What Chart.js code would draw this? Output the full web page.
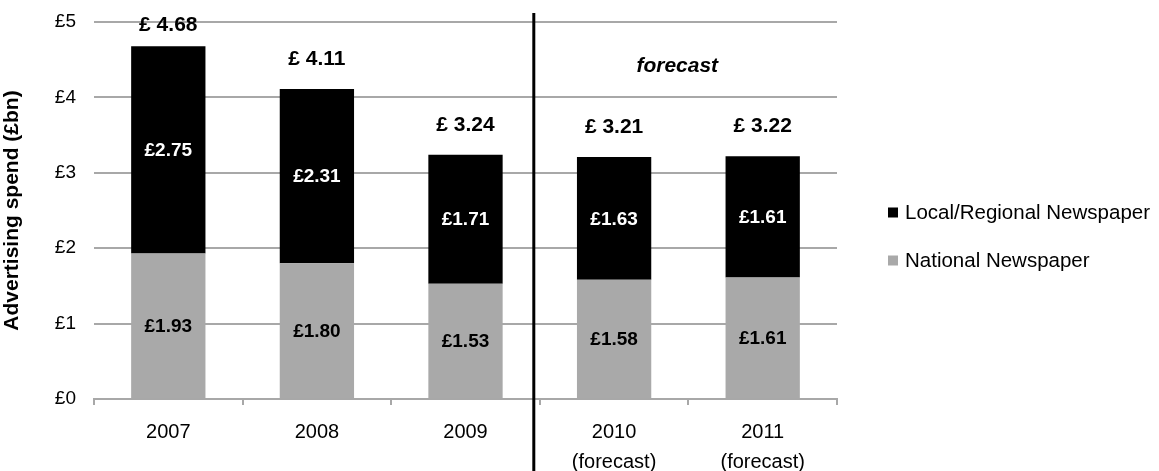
<!DOCTYPE html>
<html><head><meta charset="utf-8">
<script src="https://cdn.jsdelivr.net/npm/chart.js@4"></script>
<style>html,body{margin:0;padding:0;background:#fff}#wrap{width:1159px;height:471px;position:relative}</style>
</head><body><div id="wrap"><canvas id="c" width="1159" height="471"></canvas></div>
<script>
const categories = ['2007', '2008', '2009', ['2010', '(forecast)'], ['2011', '(forecast)']];
const nationalValues = [1.93, 1.80, 1.53, 1.58, 1.61];
const localValues = [2.75, 2.31, 1.71, 1.63, 1.61];
const totalValues = [4.68, 4.11, 3.24, 3.21, 3.22];
const yTickMin = 0;
const yTickMax = 5;
const yTickStep = 1;
const seriesNames = ['National Newspaper', 'Local/Regional Newspaper'];
const forecastText = 'forecast';
const yAxisTitle = 'Advertising spend (£bn)';

const FONT = "'Liberation Sans', Arial, sans-serif";
const GRAY = '#a9a9a9';
const GRID = '#a8a8a8';

const labelsPlugin = {
  id: 'labelsPlugin',
  afterDatasetsDraw(chart) {
    const ctx = chart.ctx;
    const xs = chart.scales.x, ys = chart.scales.y;
    const ca = chart.chartArea;
    const metaN = chart.getDatasetMeta(0), metaL = chart.getDatasetMeta(1);
    ctx.save();
    // divider line between actual and forecast
    const xDiv = (xs.getPixelForValue(2) + xs.getPixelForValue(3)) / 2 - 6;
    ctx.strokeStyle = '#000';
    ctx.lineWidth = 3;
    ctx.beginPath();
    ctx.moveTo(xDiv, ca.top - 9);
    ctx.lineTo(xDiv, chart.height);
    ctx.stroke();

    ctx.textAlign = 'center';
    ctx.textBaseline = 'middle';
    ctx.font = 'bold 19px ' + FONT;
    metaN.data.forEach((bar, i) => {
      ctx.fillStyle = '#000';
      ctx.fillText('£' + nationalValues[i].toFixed(2), bar.x, (bar.y + bar.base) / 2 + 1);
    });
    metaL.data.forEach((bar, i) => {
      ctx.fillStyle = '#fff';
      ctx.fillText('£' + localValues[i].toFixed(2), bar.x, (bar.y + bar.base) / 2 + 1);
    });
    ctx.fillStyle = '#000';
    ctx.font = 'bold 21px ' + FONT;
    metaL.data.forEach((bar, i) => {
      const y = Math.max(bar.y - 30, ca.top + 3.5);
      ctx.fillText('£ ' + totalValues[i].toFixed(2), bar.x, y);
    });
    ctx.font = 'italic bold 21px ' + FONT;
    ctx.fillText(forecastText, xs.getPixelForValue(3.425), ys.getPixelForValue(4.42));
    ctx.restore();
  },
  afterDraw(chart) {
    const ctx = chart.ctx;
    const ca = chart.chartArea;
    const ds = chart.data.datasets;
    const order = [1, 0];
    ctx.save();
    ctx.font = '20.5px ' + FONT;
    ctx.textBaseline = 'middle';
    ctx.textAlign = 'left';
    order.forEach((di, k) => {
      const cy = chart.height / 2 - 23 + k * 48;
      ctx.fillStyle = ds[di].backgroundColor;
      ctx.fillRect(ca.right + 51, cy - 5, 10, 10);
      ctx.fillStyle = '#000';
      ctx.fillText(ds[di].label, ca.right + 68, cy + 1);
    });
    ctx.restore();
  }
};

new Chart(document.getElementById('c'), {
  type: 'bar',
  data: {
    labels: categories,
    datasets: [
      { label: seriesNames[0], data: nationalValues, backgroundColor: GRAY, borderWidth: 0 },
      { label: seriesNames[1], data: localValues, backgroundColor: '#000', borderWidth: 0 }
    ]
  },
  options: {
    responsive: false,
    animation: false,
    devicePixelRatio: 1,
    categoryPercentage: 1,
    barPercentage: 0.5,
    layout: { padding: { top: 22, right: 322, bottom: 0, left: 0 } },
    plugins: { legend: { display: false }, tooltip: { enabled: false }, title: { display: false } },
    scales: {
      x: {
        stacked: true,
        offset: true,
        grid: { display: true, drawOnChartArea: false, drawTicks: true, tickLength: 6, color: GRID, lineWidth: 2, offset: true },
        border: { display: true, color: GRID, width: 2 },
        ticks: { color: '#000', font: { family: FONT, size: 20, lineHeight: 1.5 }, padding: 12, maxRotation: 0, autoSkip: false },
        afterFit: s => { s.height = 72; }
      },
      y: {
        stacked: true,
        min: yTickMin,
        max: yTickMax,
        ticks: { stepSize: yTickStep, color: '#000', font: { family: FONT, size: 19 }, padding: 4, callback: v => '£' + v },
        grid: { color: GRID, lineWidth: 2, drawTicks: true, tickLength: 14, tickColor: 'rgba(0,0,0,0)' },
        border: { display: false },
        title: { display: true, text: yAxisTitle, color: '#000', font: { family: FONT, size: 21, weight: 'bold' }, padding: { top: 0, bottom: 0 } },
        afterFit: s => { s.width = 94; }
      }
    }
  },
  plugins: [labelsPlugin]
});
</script></body></html>
